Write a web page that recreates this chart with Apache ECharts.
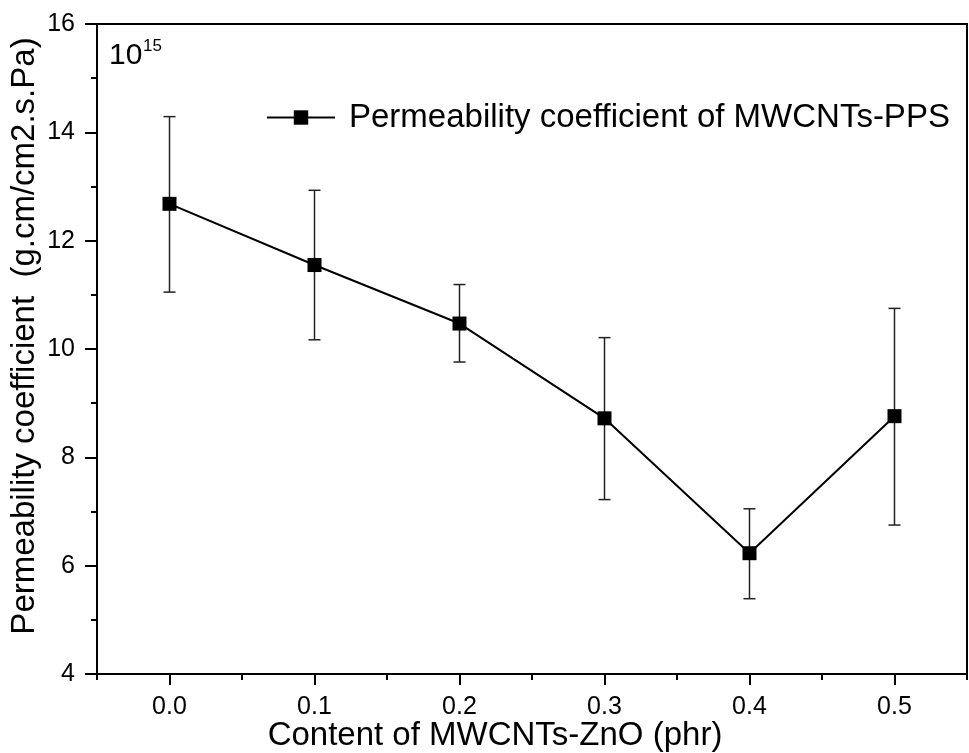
<!DOCTYPE html>
<html><head><meta charset="utf-8">
<script src="https://cdn.jsdelivr.net/npm/echarts@6/dist/echarts.min.js"></script>
<style>html,body{margin:0;padding:0;background:#fff}#c{width:969px;height:753px}</style>
</head><body><div id="c"></div>
<script>
const contents = [0.0, 0.1, 0.2, 0.3, 0.4, 0.5];
const permeability = [12.68, 11.55, 10.47, 8.72, 6.23, 8.76];
const errUpper = [14.29, 12.93, 11.19, 10.21, 7.05, 10.75];
const errLower = [11.05, 10.17, 9.76, 7.22, 5.39, 6.75];
const xMajorTicks = [0.0, 0.1, 0.2, 0.3, 0.4, 0.5];
const xMinorTicks = [-0.05, 0.05, 0.15, 0.25, 0.35, 0.45, 0.55];
const seriesName = 'Permeability coefficient of MWCNTs-PPS';
const xTitle = 'Content of MWCNTs-ZnO (phr)';
const yTitle = 'Permeability coefficient  (g.cm/cm2.s.Pa)';

const FONT = '"Liberation Sans", Arial, sans-serif';
const chart = echarts.init(document.getElementById('c'), null, {renderer: 'canvas'});

const lineData = contents.map((x, i) => [x, permeability[i]]);
const errData = contents.map((x, i) => [x, errLower[i], errUpper[i]]);

chart.setOption({
  animation: false,
  backgroundColor: '#fff',
  grid: {left: 97, right: 2, top: 24, bottom: 79, show: true, borderColor: '#000', borderWidth: 2, backgroundColor: 'transparent'},
  legend: {
    left: 261, top: 96, itemWidth: 68, itemHeight: 18,
    textStyle: {fontSize: 33, color: '#000', fontFamily: FONT, padding: [0, 0, 0, 9]},
    data: [seriesName]
  },
  xAxis: [{
    type: 'value', min: -0.05, max: 0.55, position: 'bottom',
    axisLine: {show: true, onZero: false, lineStyle: {color: '#000', width: 2}},
    axisTick: {show: true, inside: false, length: 11, lineStyle: {color: '#000', width: 2}, customValues: xMajorTicks},
    axisLabel: {show: true, margin: 21, fontSize: 25, color: '#000', fontFamily: FONT, customValues: xMajorTicks, formatter: v => v.toFixed(1)},
    splitLine: {show: false}
  }, {
    type: 'value', min: -0.05, max: 0.55, position: 'bottom',
    axisLine: {show: false, onZero: false},
    axisTick: {show: true, inside: false, length: 6, lineStyle: {color: '#000', width: 2}, customValues: xMinorTicks},
    axisLabel: {show: false},
    splitLine: {show: false}
  }],
  yAxis: {
    type: 'value', min: 4, max: 16, interval: 2, position: 'left',
    axisLine: {show: true, onZero: false, lineStyle: {color: '#000', width: 2}},
    axisTick: {show: true, inside: false, length: 12, lineStyle: {color: '#000', width: 2}},
    minorTick: {show: true, splitNumber: 2, length: 6, lineStyle: {color: '#000', width: 2}},
    axisLabel: {margin: 22, fontSize: 25, color: '#000', fontFamily: FONT},
    splitLine: {show: false}, minorSplitLine: {show: false}
  },
  graphic: [
    {type: 'text', x: 25, y: 336, rotation: Math.PI / 2,
      style: {text: yTitle, font: '33px ' + FONT, fill: '#000', textAlign: 'center', textVerticalAlign: 'middle'}},
    {type: 'text', x: 495, y: 736,
      style: {text: xTitle, font: '33px ' + FONT, fill: '#000', textAlign: 'center', textVerticalAlign: 'middle'}},
    {type: 'text', x: 109, y: 56,
      style: {text: '10', font: '30px ' + FONT, fill: '#000', textAlign: 'left', textVerticalAlign: 'middle'}},
    {type: 'text', x: 143, y: 46,
      style: {text: '15', font: '17px ' + FONT, fill: '#000', textAlign: 'left', textVerticalAlign: 'middle'}}
  ],
  series: [{
    type: 'custom', name: 'err', xAxisIndex: 0, z: 1,
    data: errData,
    renderItem: function (params, api) {
      const x = api.value(0);
      const pLo = api.coord([x, api.value(1)]);
      const pHi = api.coord([x, api.value(2)]);
      const hw = 6;
      const st = {stroke: '#222', lineWidth: 1.5};
      return {type: 'group', children: [
        {type: 'line', shape: {x1: pHi[0], y1: pHi[1], x2: pLo[0], y2: pLo[1]}, style: st},
        {type: 'line', shape: {x1: pHi[0] - hw, y1: pHi[1], x2: pHi[0] + hw, y2: pHi[1]}, style: st},
        {type: 'line', shape: {x1: pLo[0] - hw, y1: pLo[1], x2: pLo[0] + hw, y2: pLo[1]}, style: st}
      ]};
    }
  }, {
    type: 'line', name: seriesName, xAxisIndex: 0, z: 3,
    data: lineData,
    symbol: 'rect', symbolSize: 14,
    itemStyle: {color: '#000'},
    lineStyle: {color: '#000', width: 2}
  }]
});
</script></body></html>
